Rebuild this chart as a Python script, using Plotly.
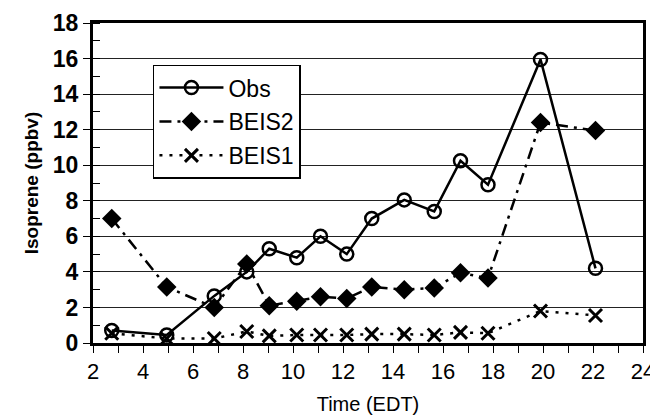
import plotly.graph_objects as go

time_edt = [2.75, 4.95, 6.85, 8.15, 9.05, 10.15, 11.1, 12.15, 13.15, 14.45, 15.65, 16.7, 17.8, 19.9, 22.1]
obs = [0.7, 0.45, 2.65, 4.0, 5.3, 4.8, 6.0, 5.0, 7.0, 8.05, 7.4, 10.25, 8.9, 15.95, 4.2]
beis2 = [7.0, 3.15, 2.0, 4.45, 2.1, 2.35, 2.6, 2.5, 3.15, 3.0, 3.1, 3.95, 3.65, 12.4, 11.95]
beis1 = [0.55, 0.25, 0.25, 0.65, 0.4, 0.45, 0.45, 0.45, 0.5, 0.5, 0.45, 0.6, 0.55, 1.8, 1.55]

FONT = "Liberation Sans, Arial, sans-serif"

fig = go.Figure()
fig.add_trace(go.Scatter(
    x=time_edt, y=obs, name="Obs", mode="lines+markers", legendgroup="a",
    line=dict(color="black", width=2.5),
    marker=dict(symbol="circle-open", size=13, color="black", line=dict(width=2.5)),
))
fig.add_trace(go.Scatter(
    x=time_edt, y=beis2, name="BEIS2", mode="lines+markers", legendgroup="b",
    line=dict(color="black", width=2.5, dash="12px,6px,3px,6px"),
    marker=dict(symbol="diamond", size=15, color="black"),
))
fig.add_trace(go.Scatter(
    x=time_edt, y=beis1, name="BEIS1", mode="lines+markers", legendgroup="c",
    line=dict(color="black", width=2.5, dash="3px,7px"),
    marker=dict(symbol="x-thin-open", size=13, color="black", line=dict(width=3)),
))

# page body has an 8px margin: figure sits at (8, 8)
fig.update_layout(
    width=650, height=411,
    margin=dict(l=85, r=15, t=15, b=76),
    paper_bgcolor="white", plot_bgcolor="white",
    font=dict(family=FONT, color="black", size=20),
    legend=dict(
        x=0.109, y=0.87, xanchor="left", yanchor="top",
        bgcolor="white", bordercolor="black", borderwidth=1.5,
        font=dict(size=23, family=FONT), tracegroupgap=1, itemwidth=64,
    ),
    xaxis=dict(
        range=[2, 24], dtick=2, tick0=2, showgrid=False, zeroline=False,
        showline=True, linecolor="black", linewidth=3, mirror=True,
        ticks="outside", ticklen=7, tickwidth=1.2, tickcolor="black",
        minor=dict(dtick=1, ticks="outside", ticklen=7, tickwidth=1.2, tickcolor="black"),
        tickfont=dict(size=22, family=FONT),
        title=dict(text="Time (EDT)", font=dict(size=20, family=FONT), standoff=14),
        automargin=False,
    ),
    yaxis=dict(
        range=[0, 18], dtick=2, showgrid=True, gridcolor="#222222", gridwidth=1.2,
        zeroline=False,
        showline=True, linecolor="black", linewidth=3, mirror=True,
        ticks="outside", ticklen=7, tickwidth=1.2, tickcolor="black",
        minor=dict(dtick=1, ticks="inside", ticklen=7, tickwidth=1.2, tickcolor="black", showgrid=False),
        tickfont=dict(size=23, family=FONT, weight="bold"),
        title=dict(text="<b>Isoprene (ppbv)</b>", font=dict(size=19, family=FONT), standoff=10),
        automargin=False,
    ),
)

fig.write_html("out.html")
